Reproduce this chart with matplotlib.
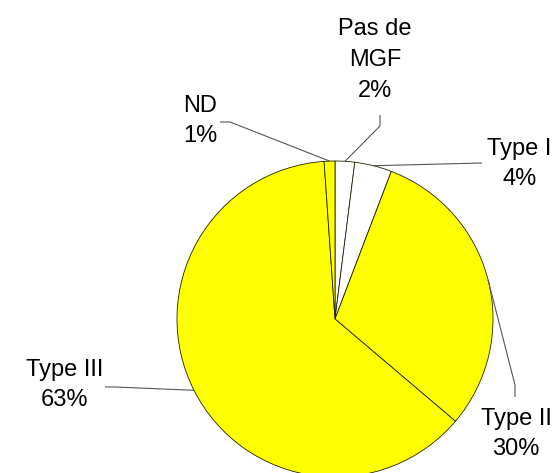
import numpy as np
import matplotlib
matplotlib.use("Agg")
import matplotlib.pyplot as plt

plt.rcParams['font.family'] = ['Liberation Sans', 'DejaVu Sans']

# data (clockwise from 12 o'clock)
labels = ['Pas de\nMGF', 'Type I', 'Type II', 'Type III', 'ND']
values = [2.0, 3.8, 30.4, 62.7, 1.1]
colors = ['#FFFFFF', '#FFFFFF', '#FFFF00', '#FFFF00', '#FFFF00']

# layout in pixels from top-left: text anchor, alignment, elbow points of leader
H = 473
layout = [
    dict(xy=(375, 60), ha='center', path=[(380, 126), (380, 115)]),
    dict(xy=(487, 164), ha='left', path=[(482, 163)]),
    dict(xy=(516, 434), ha='center', path=[(515, 385), (515, 397)]),
    dict(xy=(65, 385), ha='center', path=[(115, 387), (105, 387)]),
    dict(xy=(200, 121), ha='center', path=[(230, 122), (220, 122)]),
]

fig = plt.figure(figsize=(5.6, 4.73), dpi=100)
ax = fig.add_axes([0, 0, 1, 1])

cx, cy, r = 335, H - 319, 158
wedges, _ = ax.pie(values, colors=colors, startangle=90, counterclock=False,
                   center=(cx, cy), radius=r,
                   wedgeprops=dict(edgecolor='#222200', linewidth=0.6))

total = sum(values)
for w, lab, v, lay in zip(wedges, labels, values, layout):
    mid = np.deg2rad((w.theta1 + w.theta2) / 2)
    px = [cx + r * np.cos(mid)] + [p[0] for p in lay['path']]
    py = [cy + r * np.sin(mid)] + [H - p[1] for p in lay['path']]
    ax.plot(px, py, color='#555555', lw=0.8, solid_capstyle='butt')
    pct = round(v / total * 100)
    ax.text(lay['xy'][0], H - lay['xy'][1], f"{lab}\n{pct}%", ha=lay['ha'],
            va='center', multialignment='center', fontsize=17,
            linespacing=1.52, color='black')

ax.set_xlim(0, 560)
ax.set_ylim(0, H)
ax.set_aspect('auto')
ax.axis('off')

fig.savefig('out.png', dpi=100)
